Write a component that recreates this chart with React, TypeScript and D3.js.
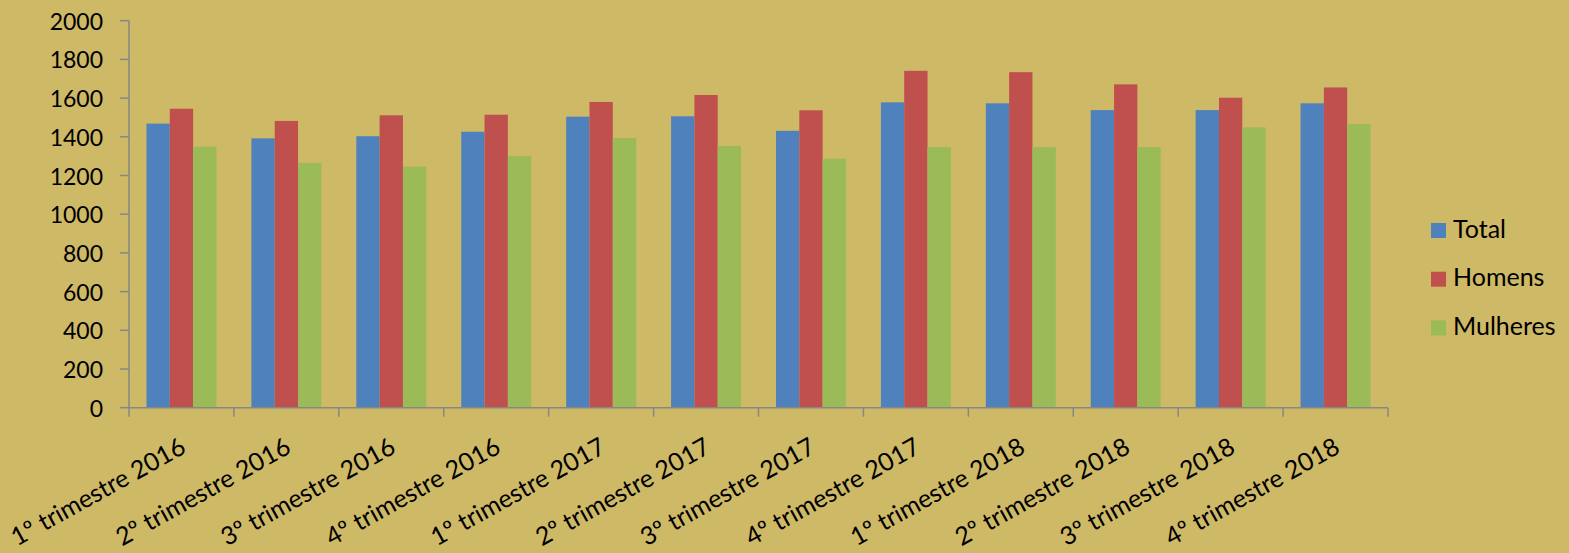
import React from "react";
import * as d3 from "d3";

const categories = [
  "1º trimestre 2016", "2º trimestre 2016", "3º trimestre 2016", "4º trimestre 2016",
  "1º trimestre 2017", "2º trimestre 2017", "3º trimestre 2017", "4º trimestre 2017",
  "1º trimestre 2018", "2º trimestre 2018", "3º trimestre 2018", "4º trimestre 2018"
];
const seriesNames = ["Total", "Homens", "Mulheres"];
const total = [1468, 1392, 1403, 1426, 1504, 1506, 1431, 1578, 1573, 1538, 1538, 1573];
const homens = [1545, 1482, 1511, 1514, 1580, 1616, 1537, 1741, 1734, 1671, 1602, 1655];
const mulheres = [1349, 1265, 1246, 1301, 1394, 1352, 1287, 1347, 1347, 1347, 1449, 1466];
const yTicks = [0, 200, 400, 600, 800, 1000, 1200, 1400, 1600, 1800, 2000];
const colors = ["#4F81BD", "#C0504D", "#9BBB59"];

const W = 1569;
const H = 553;
const FONT = "Lato, 'Open Sans', sans-serif";

export default function App() {
  const values = [total, homens, mulheres];

  // plot area as measured on the reference
  const left = 129, right = 1388, top = 20.7, bottom = 407.7;

  const x = d3.scaleBand<string>().domain(categories).range([left, right]);
  const inner = d3.scaleBand<string>()
    .domain(seriesNames)
    .range([0, x.bandwidth()])
    .paddingOuter(0.75);
  const y = d3.scaleLinear().domain([0, 2000]).range([bottom, top]);

  const axisColor = "#878787";

  return (
    <svg width={W} height={H} style={{ position: "absolute", left: 0, top: 0 }} fontFamily={FONT}>
      <rect x={0} y={0} width={W} height={H} fill="#CEB966" />

      {/* bars */}
      {categories.map((c, i) => (
        <g key={c} transform={`translate(${x(c)},0)`}>
          {seriesNames.map((s, j) => (
            <rect
              key={s}
              x={inner(s)}
              y={y(values[j][i])}
              width={inner.bandwidth()}
              height={y(0) - y(values[j][i])}
              fill={colors[j]}
            />
          ))}
        </g>
      ))}

      {/* y axis */}
      <line x1={left} x2={left} y1={top} y2={bottom} stroke={axisColor} strokeWidth={1.5} />
      {yTicks.map((t) => (
        <g key={t}>
          <line x1={left - 9} x2={left} y1={y(t)} y2={y(t)} stroke={axisColor} strokeWidth={1.5} />
          <text x={103} y={y(t)} textAnchor="end" dominantBaseline="central" fontSize={23} fill="#000">
            {t}
          </text>
        </g>
      ))}

      {/* x axis */}
      <line x1={left} x2={right} y1={bottom} y2={bottom} stroke={axisColor} strokeWidth={1.5} />
      {categories.map((c) => (
        <line key={c} x1={x(c)} x2={x(c)} y1={bottom} y2={bottom + 9} stroke={axisColor} strokeWidth={1.5} />
      ))}
      <line x1={right} x2={right} y1={bottom} y2={bottom + 9} stroke={axisColor} strokeWidth={1.5} />
      {categories.map((c) => {
        const cx = (x(c) as number) + x.bandwidth() / 2 + 6;
        return (
          <text
            key={c}
            transform={`translate(${cx},452) rotate(-29)`}
            textAnchor="end"
            fontSize={25}
            fill="#000"
          >
            {c}
          </text>
        );
      })}

      {/* legend */}
      {seriesNames.map((s, j) => (
        <g key={s} transform={`translate(1431,${223 + j * 48.7})`}>
          <rect x={0} y={0} width={15} height={15} fill={colors[j]} />
          <text x={22} y={14.5} fontSize={25} fill="#000">{s}</text>
        </g>
      ))}
    </svg>
  );
}
